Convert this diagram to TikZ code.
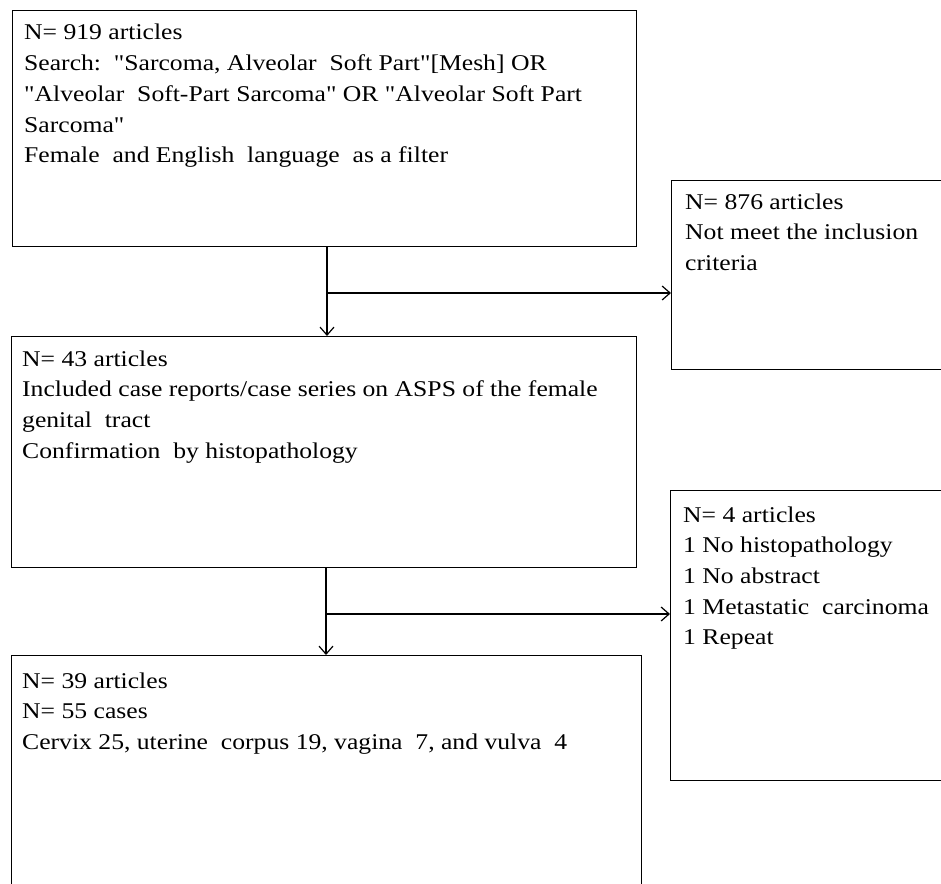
\documentclass[tikz,border=0pt]{standalone}
\usepackage{fontspec}
\setmainfont{Liberation Serif}[FakeStretch=1.14,Ligatures=TeXOff]
\usetikzlibrary{arrows.meta}
\newcommand{\lines}[1]{\begin{tabular}[t]{@{}l@{}}#1\end{tabular}}
\begin{document}
\begin{tikzpicture}[x=1pt,y=-1pt,
  box/.style={draw,line width=1.2pt,inner sep=0pt},
  txt/.style={anchor=base west,inner sep=0pt,font=\fontsize{22.5}{30.7}\selectfont},
  arr/.style={line width=1.2pt,-{Straight Barb[length=8pt,width=14pt,line width=1.2pt]}}]
\useasboundingbox (0,0) rectangle (941,883);
\clip (0,0) rectangle (941,883);
\fill[white] (0,0) rectangle (941,883);
% boxes
\node[box,minimum width=624pt,minimum height=236pt,anchor=north west] (b1) at (12,10) {};
\node[box,minimum width=290pt,minimum height=189pt,anchor=north west] (b2) at (671,180) {};
\node[box,minimum width=625pt,minimum height=231pt,anchor=north west] (b3) at (11,336) {};
\node[box,minimum width=290pt,minimum height=290pt,anchor=north west] (b4) at (670,490) {};
\node[box,minimum width=630pt,minimum height=250pt,anchor=north west] (b5) at (11,655) {};
% texts
\node[txt] (t1) at (24,40) {\lines{N= 919 articles\\
Search:\ \ "Sarcoma, Alveolar\ \ Soft Part"[Mesh] OR\\
"Alveolar\ \ Soft-Part Sarcoma" OR "Alveolar Soft Part\\
Sarcoma"\\
Female\ \ and English\ \ language\ \ as\ a filter}};
\node[txt] (t2) at (685,209) {\lines{N= 876 articles\\
Not meet the inclusion\\
criteria}};
\node[txt] (t3) at (22,366) {\lines{N= 43\ articles\\
Included\ case reports/case series\ on ASPS of the\ female\\
genital\ \ tract\\
Confirmation\ \ by histopathology}};
\node[txt] (t4) at (683,522) {\lines{N= 4 articles\\
1 No histopathology\\
1 No abstract\\
1 Metastatic\ \ carcinoma\\
1 Repeat}};
\node[txt] (t5) at (22,688) {\lines{N= 39 articles\\
N= 55 cases\\
Cervix\ 25, uterine\ \ corpus 19, vagina\ \ 7, and vulva\ \ 4}};
% connectors
\coordinate (j1) at (327,293);
\coordinate (j2) at (326,614);
\draw[arr] (b1.south -| j1) -- (b3.north -| j1);
\draw[arr] (j1) -- (j1 -| b2.west);
\draw[arr] (b3.south -| j2) -- (b5.north -| j2);
\draw[arr] (j2) -- (j2 -| b4.west);
\end{tikzpicture}
\end{document}
